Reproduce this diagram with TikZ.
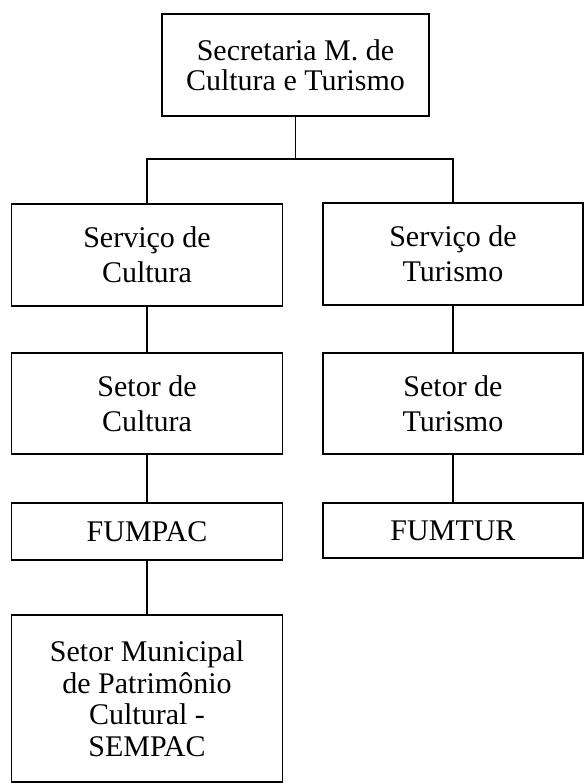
\documentclass[tikz,border=0pt]{standalone}
\usepackage{fontspec}
\setmainfont{Liberation Serif}

\begin{document}
\begin{tikzpicture}[x=1pt,y=-1pt,
		caixa/.style={draw,line width=1.3pt,align=center,inner sep=0pt,
			font=\fontsize{30}{35}\selectfont},
		linha/.style={line width=1.3pt}]
				\useasboundingbox (0,0) rectangle (587,784);

				\node[caixa,minimum width=267pt,minimum height=102pt,
					font=\fontsize{30}{30}\selectfont] (sec) at (295.5,65) {Secretaria M. de\\Cultura e Turismo};
				\node[caixa,minimum width=271pt,minimum height=102pt] (servcult) at (147,255) {Serviço de\\Cultura};
				\node[caixa,minimum width=260pt,minimum height=102pt] (servtur) at (453,254) {Serviço de\\Turismo};
				\node[caixa,minimum width=271pt,minimum height=101pt] (setcult) at (147,403.5) {Setor de\\Cultura};
				\node[caixa,minimum width=260pt,minimum height=101pt] (settur) at (453,403.5) {Setor de\\Turismo};
				\node[caixa,minimum width=271pt,minimum height=57pt] (fumpac) at (147,531.5) {FUMPAC};
				\node[caixa,minimum width=260pt,minimum height=55pt] (fumtur) at (453,530.5) {FUMTUR};
				\node[caixa,minimum width=271pt,minimum height=167pt,
					font=\fontsize{30}{31.5}\selectfont] (sempac) at (147,698.5) {Setor Municipal\\de Patrimônio\\Cultural -\\SEMPAC};
				\coordinate (ramo) at (295.5,159);

				\draw [linha] (sec) to (ramo);
				\draw [linha] (ramo) -| (servcult);
				\draw [linha] (ramo) -| (servtur);
				\draw [linha] (servcult) to (setcult);
				\draw [linha] (servtur) to (settur);
				\draw [linha] (setcult) to (fumpac);
				\draw [linha] (settur) to (fumtur);
				\draw [linha] (fumpac) to (sempac);
		\end{tikzpicture}
\end{document}
